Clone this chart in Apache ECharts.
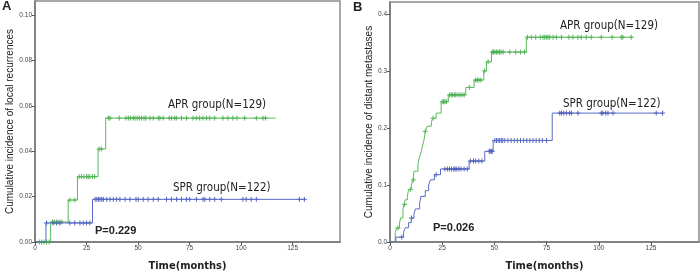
<!DOCTYPE html>
<html><head><meta charset="utf-8">
<script src="https://cdn.jsdelivr.net/npm/echarts@6/dist/echarts.min.js"></script>
<style>html,body{margin:0;padding:0;background:#fff}#c{width:700px;height:278px}</style>
</head><body><div id="c"></div>
<script>
// ---- tick labels ----
const xTicks = [0, 25, 50, 75, 100, 125];
const yTicksA = [0, 0.02, 0.04, 0.06, 0.08, 0.10];
const yTicksB = [0, 0.1, 0.2, 0.3, 0.4];

// ---- Panel A: local recurrences, steps [months, cumulative incidence] ----
const aprStepsA = [[1.5,0],[7.6,0.0088],[16.1,0.0185],[20.6,0.0288],[30.6,0.041],[34.3,0.0546],[116.7,0.0546]];
const sprStepsA = [[0.5,0],[5.3,0.0084],[27.9,0.0188],[130.7,0.0188]];
const aprCensorA = [2.1,3.2,4.3,5.6,6.9,8.5,9.5,10.6,11.7,13.0,16.9,19.3,21.4,22.5,23.7,25.0,25.8,26.6,27.9,29.0,31.1,32.2,
  35.6,36.4,40.9,44.1,45.3,46.4,47.7,48.5,49.6,50.6,51.7,52.9,53.8,55.8,57.4,59.8,60.6,62.2,65.1,66.2,67.8,68.6,71.1,73.5,
  76.7,78.3,79.9,81.5,83.2,84.8,87.2,91.2,93.6,96.0,98.0,101.7,107.4,110.6,111.9];
const sprCensorA = [5.6,8.8,10.5,12.1,16.9,19.3,21.8,23.4,25.0,26.6,
  29.2,30.0,30.8,31.6,32.4,33.2,34.8,36.4,38.0,39.6,41.2,43.7,46.1,49.0,50.1,52.5,54.9,57.4,59.8,63.8,66.2,68.7,71.1,73.5,
  75.1,78.3,81.5,82.4,84.8,87.2,90.4,100.9,102.5,104.9,107.4,128.3,130.7];

// ---- Panel B: distant metastases ----
const aprStepsB = [[1.5,0],[2.5,0.016],[3.2,0.0245],[4.5,0.033],[5.1,0.042],[6.2,0.057],[6.7,0.066],[7.3,0.074],[8.3,0.08],
  [8.9,0.092],[10.2,0.1],[11.0,0.109],[11.5,0.124],[13.4,0.138],[14.2,0.15],[15.0,0.159],[15.8,0.172],[16.3,0.179],
  [16.9,0.194],[17.8,0.203],[19.8,0.211],[20.5,0.217],[22.1,0.226],[24.5,0.246],[27.9,0.258],[36.3,0.271],[40.3,0.284],
  [44.9,0.300],[46.2,0.316],[48.6,0.333],[65.3,0.359],[116.3,0.359]];
const sprStepsB = [[0.5,0],[2.8,0.0085],[6.5,0.017],[7.3,0.025],[8.9,0.034],[10.2,0.042],[11.5,0.05],[12.2,0.058],[14.2,0.068],
  [14.8,0.08],[16.9,0.09],[18.5,0.1],[19.4,0.109],[21.3,0.118],[24.2,0.128],[37.9,0.142],[45.4,0.159],[49.4,0.178],
  [77.7,0.226],[130.7,0.226]];
const aprCensorB = [3.8,7.0,9.7,11.3,16.9,20.6,25.0,25.7,26.3,27.0,28.5,29.3,30.0,30.8,31.5,32.5,33.5,34.5,35.5,38.0,
  41.0,41.8,42.6,43.5,45.3,47.0,49.0,49.6,50.3,51.0,51.7,52.4,53.2,54.2,57.4,60.2,62.5,64.5,
  65.8,67.7,69.8,72.0,73.3,74.1,74.9,75.7,76.5,78.1,79.7,82.1,85.7,87.6,90.0,91.6,94.0,96.4,101.2,106.4,110.8,111.5,115.5];
const sprCensorB = [5.6,10.3,22.1,26.3,27.5,28.5,29.5,30.5,31.2,32.0,33.0,34.0,35.5,37.0,38.5,40.0,41.0,42.5,44.0,
  47.5,48.0,48.5,49.0,50.2,51.0,51.8,52.5,53.3,54.0,55.0,56.5,58.0,59.5,61.0,62.5,64.0,65.5,67.0,68.5,70.0,71.5,73.0,75.0,
  81.3,82.1,83.2,84.5,86.0,86.9,90.0,101.2,101.9,103.3,104.4,106.8,127.5,130.6];

// ---- styling ----
const GREEN_LINE = '#58bb58', GREEN_MARK = '#2fa33a';
const BLUE_LINE = '#5a6cc6', BLUE_MARK = '#2f44ad';
const PLUS = 'path://M0,4H8M4,0V8';
const FONT = 'Liberation Sans, Arial, sans-serif';
const NARROW = '"Liberation Sans Narrow", "DejaVu Sans Condensed", "Liberation Sans", sans-serif';

function valueAt(steps, t) {
  let v = steps[0][1];
  for (const s of steps) { if (s[0] <= t) v = s[1]; }
  return v;
}
function censorPts(steps, times) { return times.map(t => [t, valueAt(steps, t)]); }

function xAxis(gi) {
  return {
    gridIndex: gi, type: 'value', min: 0, max: 148, interval: 25,
    name: 'Time(months)', nameLocation: 'middle', nameGap: 19,
    nameTextStyle: { fontFamily: NARROW, fontWeight: 'bold', fontSize: 11, color: '#222' },
    axisLine: { show: true, onZero: false, lineStyle: { color: '#777', width: 1.5 } },
    axisTick: { show: true, length: 3, customValues: xTicks, lineStyle: { color: '#555' } },
    axisLabel: { customValues: xTicks, fontSize: 6.5, color: '#444', margin: 3, fontFamily: FONT },
    splitLine: { show: false }
  };
}
function yAxis(gi, max, ticks, dec, name, gap) {
  return {
    gridIndex: gi, type: 'value', min: 0, max: max,
    name: name, nameLocation: 'middle', nameGap: gap,
    nameTextStyle: { fontFamily: FONT, fontSize: 10, color: '#222' },
    axisLine: { show: true, onZero: false, lineStyle: { color: '#777', width: 1.5 } },
    axisTick: { show: true, length: 3, customValues: ticks, lineStyle: { color: '#555' } },
    axisLabel: { customValues: ticks, fontSize: 6.5, color: '#444', margin: 3, fontFamily: FONT,
      formatter: v => Number(v).toFixed(dec) },
    splitLine: { show: false }
  };
}
function lineSeries(xi, steps, color) {
  return { type: 'line', xAxisIndex: xi, yAxisIndex: xi, step: 'end', data: steps, showSymbol: false,
    lineStyle: { color: color, width: 1 }, silent: true, animation: false };
}
function censorSeries(xi, steps, times, color) {
  return { type: 'scatter', xAxisIndex: xi, yAxisIndex: xi, data: censorPts(steps, times), symbol: PLUS, symbolSize: 5,
    itemStyle: { color: 'transparent', borderColor: color, borderWidth: 1 }, silent: true, animation: false };
}
function txt(text, x, y, size, bold, family) {
  return { type: 'text', x: x, y: y, silent: true,
    style: { text: text, fontSize: size, fontWeight: bold ? 'bold' : 'normal', fontFamily: family || FONT,
      fill: '#222', textAlign: 'left', textVerticalAlign: 'middle' } };
}

const chart = echarts.init(document.getElementById('c'), null, { renderer: 'canvas' });
chart.setOption({
  animation: false,
  backgroundColor: '#fff',
  grid: [
    { left: 35, top: 1, width: 305, height: 241, show: true, borderColor: '#8c8c8c', borderWidth: 1.5, backgroundColor: '#fff' },
    { left: 390, top: 2, width: 309, height: 240, show: true, borderColor: '#8c8c8c', borderWidth: 1.5, backgroundColor: '#fff' }
  ],
  xAxis: [xAxis(0), xAxis(1)],
  yAxis: [
    yAxis(0, 0.1062, yTicksA, 2, 'Cumulative incidence of local recurrences', 16),
    yAxis(1, 0.4208, yTicksB, 1, 'Cumulative incidence of distant metastases', 9)
  ],
  series: [
    lineSeries(0, aprStepsA, GREEN_LINE), censorSeries(0, aprStepsA, aprCensorA, GREEN_MARK),
    lineSeries(0, sprStepsA, BLUE_LINE), censorSeries(0, sprStepsA, sprCensorA, BLUE_MARK),
    lineSeries(1, aprStepsB, GREEN_LINE), censorSeries(1, aprStepsB, aprCensorB, GREEN_MARK),
    lineSeries(1, sprStepsB, BLUE_LINE), censorSeries(1, sprStepsB, sprCensorB, BLUE_MARK)
  ],
  graphic: [
    txt('A', 2, 6, 13, true),
    txt('B', 353, 7, 13, true),
    txt('APR group(N=129)', 168, 105, 11.5, false, NARROW),
    txt('SPR group(N=122)', 173, 188, 11.5, false, NARROW),
    txt('P=0.229', 95, 230.5, 11, true),
    txt('APR group(N=129)', 560, 26, 11.5, false, NARROW),
    txt('SPR group(N=122)', 563, 104, 11.5, false, NARROW),
    txt('P=0.026', 433, 228, 11, true)
  ]
});
</script></body></html>
